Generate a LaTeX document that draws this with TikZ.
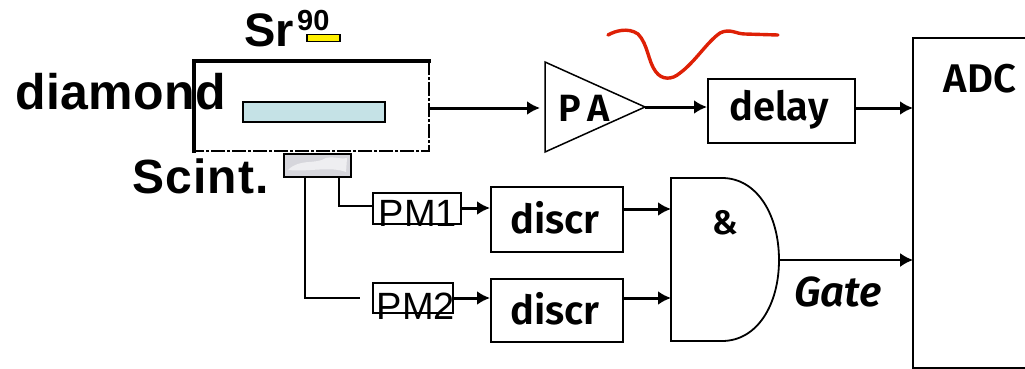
\documentclass[tikz,border=0pt]{standalone}
\usepackage{fontspec}
\setmainfont{Liberation Sans}
\newfontfamily\handfont{Fira Sans}[BoldFont={Fira Sans SemiBold}]
\usetikzlibrary{arrows.meta}
\definecolor{plate}{RGB}{197,226,230}
\definecolor{scintgray}{RGB}{214,214,220}
\definecolor{wave}{RGB}{222,32,6}
\definecolor{srcyellow}{RGB}{255,240,0}
\tikzset{
  x=1pt,y=-1pt,
  boxnode/.style={draw=black,line width=1.8pt,fill=none,inner sep=0pt,anchor=north west},
  thinbox/.style={draw=black,line width=1.5pt,inner sep=0pt,anchor=north west},
  wire/.style={draw=black,line width=1.4pt},
  sigline/.style={draw=black,line width=3pt,-{Latex[length=13pt,width=14pt]}},
  handlabel/.style={font=\handfont\bfseries\fontsize{40}{40}\selectfont,inner sep=0pt},
}
\begin{document}
\begin{tikzpicture}
\useasboundingbox (0,0) rectangle (1025,369);
% diamond housing
\node[minimum width=235pt,minimum height=90pt,inner sep=0pt,anchor=north west] (house) at (194,61) {};
\draw[line width=1.5pt,dash pattern=on 14pt off 2pt on 3pt off 2pt] (429,61) -- (429,151) -- (194,151);
\draw[line width=3.2pt,line cap=rect] (194,151) -- (194,61) -- (429,61);
\node[thinbox,line width=1.8pt,fill=plate,minimum width=142pt,minimum height=20pt] (plate) at (242,101) {};
\node[thinbox,fill=srcyellow,minimum width=33pt,minimum height=7pt] (src) at (306,34) {};
% scintillator
\node[thinbox,line width=1.8pt,fill=scintgray,minimum width=67pt,minimum height=23pt] (scint) at (283,153) {};
\fill[white,opacity=.6] (288,170) .. controls (300,158) and (315,165) .. (326,158) .. controls (335,156) and (342,160) .. (347,158) -- (346,172) .. controls (330,166) and (310,172) .. (288,170) -- cycle;
% labels
\node[font=\bfseries\fontsize{47}{47}\selectfont,inner sep=0pt,anchor=base west] (lsr) at (244,47) {Sr};
\node[font=\bfseries\fontsize{29}{29}\selectfont,inner sep=0pt,anchor=base west] (l90) at (297,31) {90};
\node[font=\bfseries\fontsize{50}{50}\selectfont,inner sep=0pt,anchor=base west] (ldia) at (15,109) {\addfontfeature{LetterSpace=0.8}diamond};
\node[font=\bfseries\fontsize{48}{48}\selectfont,inner sep=0pt,anchor=base west] (lsc) at (132,193) {\addfontfeature{LetterSpace=2.5}Scint.};
% blocks
\node[thinbox,minimum width=88pt,minimum height=31pt] (pm1) at (372,192) {};
\node[thinbox,minimum width=80pt,minimum height=30pt] (pm2) at (372,282) {};
\node[font=\fontsize{38}{38}\selectfont,inner sep=0pt] (tpm1) at (418,213.5) {PM1};
\node[font=\fontsize{38}{38}\selectfont,inner sep=0pt] (tpm2) at (416,306) {PM2};
\node[boxnode,minimum width=132pt,minimum height=65pt] (d1) at (490,186) {};
\node[boxnode,minimum width=132pt,minimum height=63pt] (d2) at (490,278) {};
\node[handlabel] (td1) at (555,218) {discr};
\node[handlabel] (td2) at (555,309) {discr};
\node[boxnode,minimum width=147pt,minimum height=64pt] (delay) at (707,78) {};
\node[handlabel] (tdelay) at (779,110) {delay};
% PA
\coordinate (pain) at (540,108);
\coordinate (paout) at (645,107);
\draw[line width=1.5pt,line join=miter] (545,62) -- (paout) -- (545,152) -- cycle;
\node[handlabel,font=\handfont\bfseries\fontsize{38}{38}\selectfont] (tpa) at (584,108) {P\,A};
% AND gate
\coordinate (andin1) at (671,209);
\coordinate (andin2) at (671,298);
\coordinate (andout) at (779,260);
\draw[line width=1.8pt] (671,178) -- (722,178) .. controls (757,178) and (779,215) .. (andout) .. controls (779,305) and (757,341) .. (722,341) -- (671,341) -- cycle;
\node[inner sep=0pt,font=\handfont\bfseries\fontsize{34}{34}\selectfont] (amp) at (725,223) {\&};
\node[inner sep=0pt,font=\handfont\bfseries\itshape\fontsize{42}{42}\selectfont] (gate) at (838,292) {Gate};
% ADC
\coordinate (adc1) at (913,108);
\coordinate (adc2) at (913,260);
\draw[line width=1.8pt] (1030,38) -- (913,38) -- (913,368) -- (1030,368);
\node[handlabel] (tadc) at (980,79) {ADC};
% connectors
\coordinate (s1) at (339,176);
\coordinate (s2) at (305,176);
\coordinate (pm2in) at (360,298);
\draw[wire] (s1) |- (pm1.west |- 0,206);
\draw[wire] (s2) |- (pm2in);
\draw[sigline] (429,108) -- (pain);
\draw[sigline] (paout) -- (delay.west |- paout);
\draw[sigline] (delay.east |- adc1) -- (adc1);
\draw[sigline,line width=1.8pt] (andout) -- (adc2);
\draw[sigline] (pm1.east |- 0,208) -- (d1.west |- 0,208);
\draw[sigline] (454,298) -- (d2.west |- 0,298);
\draw[sigline] (d1.east |- andin1) -- (andin1);
\draw[sigline] (d2.east |- andin2) -- (andin2);
% pulse
\draw[wave,line width=3.4pt,line cap=round,line join=round] (608,35) .. controls (615,31) and (628,27) .. (638,34) .. controls (648,44) and (648,62) .. (656,72) .. controls (662,80) and (672,80) .. (680,73) .. controls (695,62) and (707,42) .. (720,33) .. controls (730,28) and (736,34) .. (745,34) -- (778,35);
\end{tikzpicture}
\end{document}
